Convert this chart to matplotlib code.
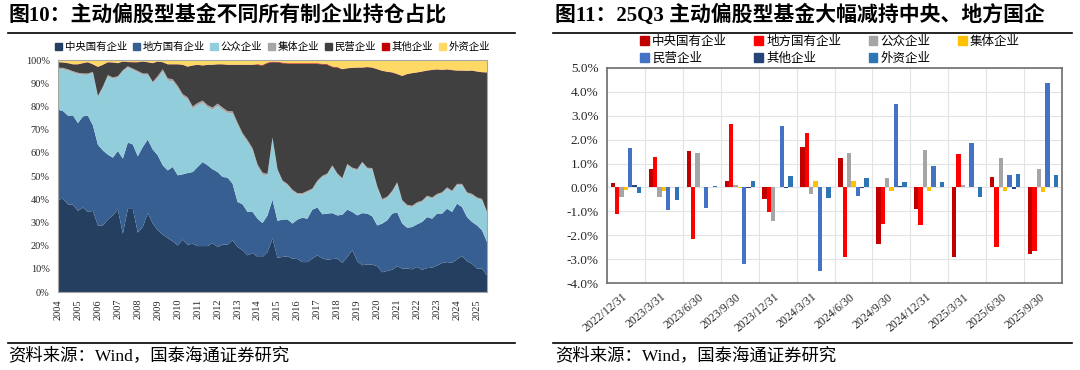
import numpy as np
import matplotlib
matplotlib.use('Agg')
import matplotlib.pyplot as plt
from matplotlib.lines import Line2D
from matplotlib.patches import Patch
from matplotlib.ticker import FuncFormatter

SERIF_CJK = ['Liberation Serif', 'Noto Sans CJK SC']
CJK = ['Noto Sans CJK SC', 'DejaVu Sans']
plt.rcParams['font.family'] = SERIF_CJK

# ---------------- Left chart data (share of holdings, %, quarterly 2004Q1-2025Q3) ----------------
year_labels = [str(y) for y in range(2004, 2026)]
left_names = ['中央国有企业', '地方国有企业', '公众企业', '集体企业', '民营企业', '其他企业', '外资企业']

central_soe = [39.8, 40.2, 37.8, 37.6, 35.0, 36.4, 34.5, 35.0, 28.7, 28.7,
               31.2, 33.0, 35.6, 25.1, 35.8, 35.8, 25.6, 28.0, 34.0, 29.5,
               26.6, 24.7, 23.3, 21.8, 20.1, 22.6, 20.4, 20.8, 19.8, 19.8,
               19.8, 21.1, 19.4, 20.4, 20.4, 22.3, 19.4, 18.0, 15.8, 16.8,
               15.1, 15.1, 17.2, 23.1, 14.8, 15.1, 15.4, 14.4, 14.2, 12.9,
               12.9, 14.4, 15.8, 14.5, 13.9, 14.2, 14.4, 12.6, 15.1, 18.0,
               13.2, 11.5, 11.9, 11.8, 11.1, 8.5, 9.1, 9.6, 11.1, 10.1,
               10.1, 9.8, 10.8, 9.6, 10.3, 10.5, 11.4, 12.5, 12.9, 12.5,
               14.1, 15.5, 13.2, 12.2, 10.1, 10.1, 7.2]
local_soe = [38.8, 37.8, 38.2, 38.5, 37.8, 39.3, 41.5, 36.8, 34.8, 32.3,
             28.0, 24.9, 25.2, 32.4, 28.6, 27.8, 32.9, 34.5, 31.7, 31.9,
             32.3, 29.9, 29.1, 32.1, 30.2, 28.1, 30.9, 30.9, 34.1, 36.2,
             34.8, 31.8, 32.3, 29.2, 28.9, 24.4, 19.4, 19.8, 18.7, 17.7,
             16.5, 14.6, 15.8, 16.7, 15.9, 16.1, 15.9, 15.1, 17.0, 19.1,
             18.7, 21.1, 20.6, 19.0, 19.9, 19.8, 18.6, 20.7, 20.4, 16.5,
             19.8, 22.5, 21.9, 20.8, 17.6, 21.0, 21.8, 24.2, 23.2, 19.4,
             17.6, 18.2, 18.4, 20.6, 22.0, 21.1, 22.4, 21.3, 23.0, 22.0,
             24.0, 21.1, 19.1, 18.0, 18.6, 16.5, 14.4]
public_ent = [17.5, 18.0, 19.4, 18.5, 21.1, 17.9, 17.6, 22.5, 20.4, 26.9,
              33.7, 34.0, 31.6, 37.5, 32.3, 32.1, 36.2, 31.1, 27.9, 28.6,
              33.2, 40.4, 38.7, 36.8, 37.6, 33.6, 31.6, 27.3, 26.6, 25.5,
              24.9, 25.6, 28.5, 28.9, 27.7, 30.2, 33.2, 29.7, 30.0, 26.5,
              22.4, 20.8, 17.3, 26.2, 21.7, 16.3, 14.7, 14.0, 10.8, 10.0,
              11.4, 8.5, 11.0, 16.0, 16.7, 20.0, 17.5, 15.2, 19.1, 18.5,
              19.4, 21.5, 19.2, 20.2, 16.3, 10.0, 9.6, 9.2, 12.4, 9.5,
              9.3, 8.6, 8.9, 8.6, 8.6, 8.6, 7.9, 8.6, 8.6, 8.6,
              7.9, 9.4, 10.1, 11.5, 11.5, 12.9, 12.4]
collective_ent = [0.6] * 20 + [1.0] * 22 + [0.6] * 45
private_ent = [2.3, 2.3, 2.6, 2.9, 3.6, 4.4, 4.8, 3.2, 12.5, 9.4,
               5.5, 6.4, 5.6, 3.7, 1.8, 2.7, 3.7, 5.1, 4.8, 8.0,
               6.2, 3.0, 6.0, 6.4, 9.2, 12.6, 13.2, 17.6, 16.4, 15.1,
               17.4, 18.4, 16.9, 18.6, 19.9, 20.0, 24.9, 29.4, 32.4, 35.9,
               42.9, 46.1, 47.7, 32.4, 45.9, 50.5, 51.7, 54.2, 55.7, 55.7,
               54.7, 53.7, 50.3, 48.0, 46.8, 42.3, 45.6, 46.9, 41.2, 43.0,
               43.7, 40.6, 43.3, 43.3, 50.4, 55.2, 53.8, 51.0, 46.6, 53.5,
               56.3, 57.1, 55.9, 55.6, 53.9, 54.9, 53.6, 52.7, 50.8, 51.9,
               48.8, 48.8, 52.3, 53.1, 54.2, 54.6, 60.0]
other_ent = [0.1] * 40 + [0.3] * 17 + [0.1] * 30
foreign_ent = [0.9, 1.0, 1.3, 1.8, 1.8, 1.3, 0.9, 1.8, 2.9, 2.0,
               0.9, 1.0, 1.3, 0.6, 0.8, 0.9, 0.9, 0.6, 0.9, 1.3,
               0.6, 0.9, 1.8, 1.8, 1.8, 2.0, 2.8, 2.3, 2.0, 2.3,
               2.0, 2.0, 1.8, 1.8, 2.0, 2.0, 2.0, 2.0, 2.0, 2.0,
               1.8, 2.1, 1.1, 0.7, 0.8, 1.1, 1.4, 1.4, 1.4, 1.4,
               1.4, 1.4, 1.4, 1.6, 1.8, 2.8, 3.0, 3.9, 3.5, 3.3,
               3.2, 3.2, 3.0, 3.2, 3.9, 4.6, 5.0, 5.3, 6.0, 6.8,
               6.0, 5.6, 5.3, 4.9, 4.5, 4.2, 4.0, 4.2, 4.0, 4.3,
               4.5, 4.5, 4.6, 4.5, 4.9, 5.2, 5.3]
left_colors = ['#243F60', '#375F92', '#92CDDC', '#A6A6A6', '#404040', '#C00000', '#FFD966']

# ---------------- Right chart data (change in share, %) ----------------
dates = ['2022/12/31', '2023/3/31', '2023/6/30', '2023/9/30', '2023/12/31', '2024/3/31',
         '2024/6/30', '2024/9/30', '2024/12/31', '2025/3/31', '2025/6/30', '2025/9/30']
d_central = [0.17, 0.77, 1.52, 0.28, -0.50, 1.71, 1.24, -2.38, -0.91, -2.92, 0.45, -2.78]
d_local = [-1.12, 1.26, -2.14, 2.67, -1.02, 2.28, -2.92, -1.55, -1.57, 1.38, -2.50, -2.66]
d_public = [-0.42, -0.39, 1.43, 0.10, -1.41, -0.27, 1.43, 0.39, 1.57, 0.10, 1.23, 0.76]
d_collective = [-0.10, -0.14, 0.00, -0.04, 0.00, 0.27, 0.28, -0.14, -0.14, 0.00, -0.15, -0.21]
d_private = [1.64, -0.96, -0.88, -3.19, 2.56, -3.50, -0.34, 3.51, 0.91, 1.87, 0.52, 4.39]
d_other = [0.10, 0.00, 0.00, -0.04, -0.04, 0.00, -0.04, 0.04, 0.00, 0.00, -0.05, 0.00]
d_foreign = [-0.24, -0.52, 0.07, 0.27, 0.48, -0.46, 0.39, 0.24, 0.21, -0.39, 0.55, 0.50]
right_names = ['中央国有企业', '地方国有企业', '公众企业', '集体企业', '民营企业', '其他企业', '外资企业']
right_colors = ['#C00000', '#FF0000', '#A5A5A5', '#FFC000', '#4472C4', '#264478', '#2E75B6']

# ---------------- Figure ----------------
W, H = 1080, 370
fig = plt.figure(figsize=(W / 100, H / 100), dpi=100)

def fx(px):
    return px / W

def fy(py):
    return 1 - py / H

# Titles
fig.text(fx(8), fy(15), '图10：主动偏股型基金不同所有制企业持仓占比', fontsize=15,
         fontweight='bold', family=SERIF_CJK, va='center', ha='left')
fig.text(fx(555), fy(15), '图11：25Q3 主动偏股型基金大幅减持中央、地方国企', fontsize=15,
         fontweight='bold', family=SERIF_CJK, va='center', ha='left')
for x0, x1 in [(8, 515), (553, 1072)]:
    fig.add_artist(Line2D([fx(x0), fx(x1)], [fy(33), fy(33)], color='black', lw=1.2,
                          transform=fig.transFigure))
    fig.add_artist(Line2D([fx(x0), fx(x1)], [fy(343), fy(343)], color='black', lw=1.2,
                          transform=fig.transFigure))
fig.text(fx(8), fy(356), '资料来源：Wind，国泰海通证券研究', fontsize=12.5,
         family=SERIF_CJK, va='center', ha='left')
fig.text(fx(555), fy(356), '资料来源：Wind，国泰海通证券研究', fontsize=12.5,
         family=SERIF_CJK, va='center', ha='left')

# ---------------- Left chart ----------------
axL = fig.add_axes([fx(58), fy(292), fx(487) - fx(58), fy(60) - fy(292)])
xq = np.arange(len(central_soe))
axL.stackplot(xq, central_soe, local_soe, public_ent, collective_ent, private_ent,
              other_ent, foreign_ent, colors=left_colors, linewidth=0)
axL.set_xlim(0, len(central_soe) - 1)
axL.set_ylim(0, 100)
axL.set_yticks(np.arange(0, 101, 10))
axL.yaxis.set_major_formatter(FuncFormatter(lambda v, p: f'{int(v)}%'))
axL.set_xticks(np.arange(0, 4 * len(year_labels), 4))
axL.set_xticklabels(year_labels, rotation=90)
axL.tick_params(axis='both', length=0, labelsize=7.5, colors='#262626')
axL.tick_params(axis='y', pad=6)
axL.tick_params(axis='x', pad=5)
for s in axL.spines.values():
    s.set_color('#A6A6A6')
    s.set_linewidth(0.8)
handlesL = [Patch(color=c) for c in left_colors]
legL = axL.legend(handlesL, left_names, loc='center', bbox_to_anchor=(0.5, 1.055), ncol=7,
                  frameon=False, prop={'family': CJK, 'size': 7.5}, handlelength=0.7,
                  handleheight=0.7, handletextpad=0.25, columnspacing=0.55, borderaxespad=0)

# ---------------- Right chart ----------------
axR = fig.add_axes([fx(607), fy(283), fx(1062) - fx(607), fy(68) - fy(283)])
series_R = [d_central, d_local, d_public, d_collective, d_private, d_other, d_foreign]
gx = np.arange(len(dates))
bw = 0.114
bars = []
for j, (vals, col) in enumerate(zip(series_R, right_colors)):
    b = axR.bar(gx + (j - 3) * bw, vals, width=bw, color=col, linewidth=0, zorder=3)
    bars.append(b)
axR.set_xlim(-0.5, len(dates) - 0.5)
axR.set_ylim(-4, 5)
axR.set_yticks(np.arange(-4, 5.01, 1))
axR.yaxis.set_major_formatter(FuncFormatter(lambda v, p: f'{v:.1f}%'))
axR.set_xticks(gx)
axR.set_xticklabels(dates, rotation=40, ha='right', va='center', rotation_mode='anchor')
axR.set_xticks(np.arange(-0.5, len(dates), 1), minor=True)
axR.grid(axis='y', which='major', color='#E3E3E3', lw=0.8, zorder=0)
axR.grid(axis='x', which='minor', color='#E3E3E3', lw=0.8, zorder=0)
axR.set_axisbelow(True)
axR.tick_params(axis='both', which='both', length=0, colors='#262626')
axR.tick_params(axis='y', labelsize=9.5, pad=6)
axR.tick_params(axis='x', labelsize=8.5, pad=9)
for s in axR.spines.values():
    s.set_color('#6E6E6E')
    s.set_linewidth(1.2)

# legend: row-major order with 4 columns
order = [0, 4, 1, 5, 2, 6, 3]
handlesR = [Patch(color=right_colors[i]) for i in order]
labelsR = [right_names[i] for i in order]
axR.legend(handlesR, labelsR, loc='center', bbox_to_anchor=(0.49, 1.085), ncol=4,
           frameon=False, prop={'family': CJK, 'size': 9}, handlelength=0.7,
           handleheight=0.7, handletextpad=0.25, columnspacing=2.2, labelspacing=0.35,
           borderaxespad=0)

fig.savefig('out.png', dpi=100)
